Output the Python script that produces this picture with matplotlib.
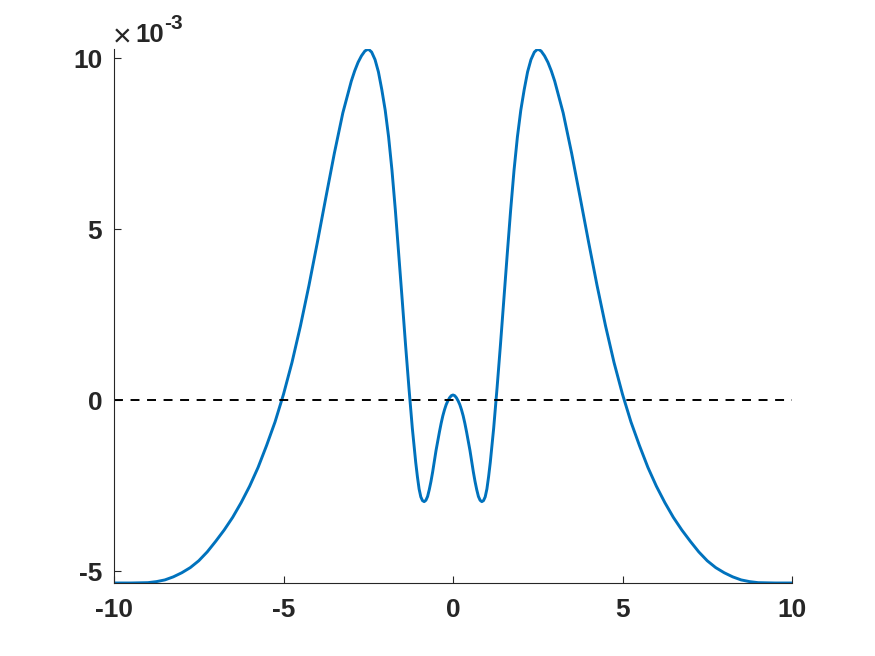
import matplotlib
matplotlib.use("Agg")
import matplotlib.pyplot as plt
import numpy as np

# x positions
x_vals = [-10, -9.5, -9, -8.75, -8.5, -8.25, -8, -7.75, -7.5, -7.25, -7, -6.75,
          -6.5, -6.25, -6, -5.75, -5.5, -5.25, -5, -4.75, -4.5, -4.25, -4, -3.75,
          -3.5, -3.25, -3, -2.9, -2.8, -2.7, -2.6, -2.5, -2.4, -2.3, -2.2, -2.1, -2,
          -1.9, -1.8, -1.7, -1.6, -1.5, -1.4, -1.3, -1.2, -1.1, -1.05, -1.0, -0.95,
          -0.9, -0.85, -0.8, -0.75, -0.7, -0.65, -0.6, -0.55, -0.5, -0.45, -0.4,
          -0.35, -0.3, -0.25, -0.2, -0.15, -0.1, -0.05, 0,
          0.05, 0.1, 0.15, 0.2, 0.25, 0.3, 0.35, 0.4, 0.45, 0.5, 0.55, 0.6, 0.65,
          0.7, 0.75, 0.8, 0.85, 0.9, 0.95, 1.0, 1.05, 1.1, 1.2, 1.3, 1.4, 1.5, 1.6,
          1.7, 1.8, 1.9, 2, 2.1, 2.2, 2.3, 2.4, 2.5, 2.6, 2.7, 2.8, 2.9, 3,
          3.25, 3.5, 3.75, 4, 4.25, 4.5, 4.75, 5, 5.25, 5.5, 5.75, 6, 6.25,
          6.5, 6.75, 7, 7.25, 7.5, 7.75, 8, 8.25, 8.5, 8.75, 9, 9.5, 10]

# curve values, in units of 1e-3
y_vals = [-5.35, -5.35, -5.34, -5.31, -5.26, -5.17, -5.05, -4.90, -4.70, -4.44, -4.13, -3.80,
          -3.43, -3.00, -2.52, -1.97, -1.33, -0.64, 0.17, 1.10, 2.17, 3.35, 4.62, 5.93,
          7.22, 8.40, 9.33, 9.63, 9.88, 10.07, 10.21, 10.27, 10.18, 9.96, 9.60, 9.08, 8.48,
          7.70, 6.72, 5.55, 4.27, 2.95, 1.62, 0.36, -0.82, -1.82, -2.24, -2.60, -2.83,
          -2.94, -2.97, -2.93, -2.82, -2.62, -2.38, -2.10, -1.79, -1.47, -1.20, -0.93,
          -0.68, -0.46, -0.28, -0.13, -0.02, 0.07, 0.13, 0.15,
          0.13, 0.07, -0.02, -0.13, -0.28, -0.46, -0.68, -0.93, -1.20, -1.47, -1.79, -2.10, -2.38,
          -2.62, -2.82, -2.93, -2.97, -2.94, -2.83, -2.60, -2.24, -1.82, -0.82, 0.36, 1.62, 2.95, 4.27,
          5.55, 6.72, 7.70, 8.48, 9.08, 9.60, 9.96, 10.18, 10.27, 10.21, 10.07, 9.88, 9.63, 9.33,
          8.40, 7.22, 5.93, 4.62, 3.35, 2.17, 1.10, 0.17, -0.64, -1.33, -1.97, -2.52, -3.00,
          -3.43, -3.80, -4.13, -4.44, -4.70, -4.90, -5.05, -5.17, -5.26, -5.31, -5.34, -5.35, -5.35]

x_ticks = [-10, -5, 0, 5, 10]
x_tick_labels = ["-10", "-5", "0", "5", "10"]
y_ticks = [-5, 0, 5, 10]          # in units of 1e-3
y_tick_labels = ["-5", "0", "5", "10"]
scale = 1e-3

plt.rcParams['font.family'] = ['Liberation Sans', 'DejaVu Sans']

W, H = 875, 656
fig = plt.figure(figsize=(W / 100, H / 100), dpi=100)
ax = fig.add_axes([114/W, (H-583)/H, (792-114)/W, (583-49)/H])

xs = np.array(x_vals)
ys = np.array(y_vals) * scale

ax.plot(xs, ys, color='#0072BD', lw=2.1, solid_joinstyle='round', solid_capstyle='butt')
zl, = ax.plot([-10, 10], [0, 0], color='black', lw=1.4, linestyle='--')
zl.set_dashes((4.6, 3.9))

ax.set_xlim(-10, 10)
ax.set_ylim(-5.35e-3, 10.27e-3)

ax.set_xticks(x_ticks)
ax.set_xticklabels(x_tick_labels)
ax.set_yticks([v * scale for v in y_ticks])
ax.set_yticklabels(y_tick_labels)

for s in ['top', 'right']:
    ax.spines[s].set_visible(False)
for s in ['left', 'bottom']:
    ax.spines[s].set_color('#262626')
    ax.spines[s].set_linewidth(0.8)

ax.tick_params(direction='in', length=4.8, width=0.8, color='#262626',
               labelcolor='#262626', labelsize=19)
ax.tick_params(axis='x', pad=11)
ax.tick_params(axis='y', pad=8.5)
for lab in ax.get_xticklabels() + ax.get_yticklabels():
    lab.set_fontweight('bold')

# exponent label "×10^-3"
fig.text(113/W, (H-46)/H, '\u00d7', fontsize=23, color='#262626',
         ha='left', va='baseline')
fig.text(135/W, (H-42)/H, '10', fontsize=18.5, fontweight='bold', color='#262626',
         ha='left', va='baseline')
fig.text(164/W, (H-29)/H, '-3', fontsize=15, fontweight='bold', color='#262626',
         ha='left', va='baseline')

fig.savefig('out.png', dpi=100, facecolor='white')
